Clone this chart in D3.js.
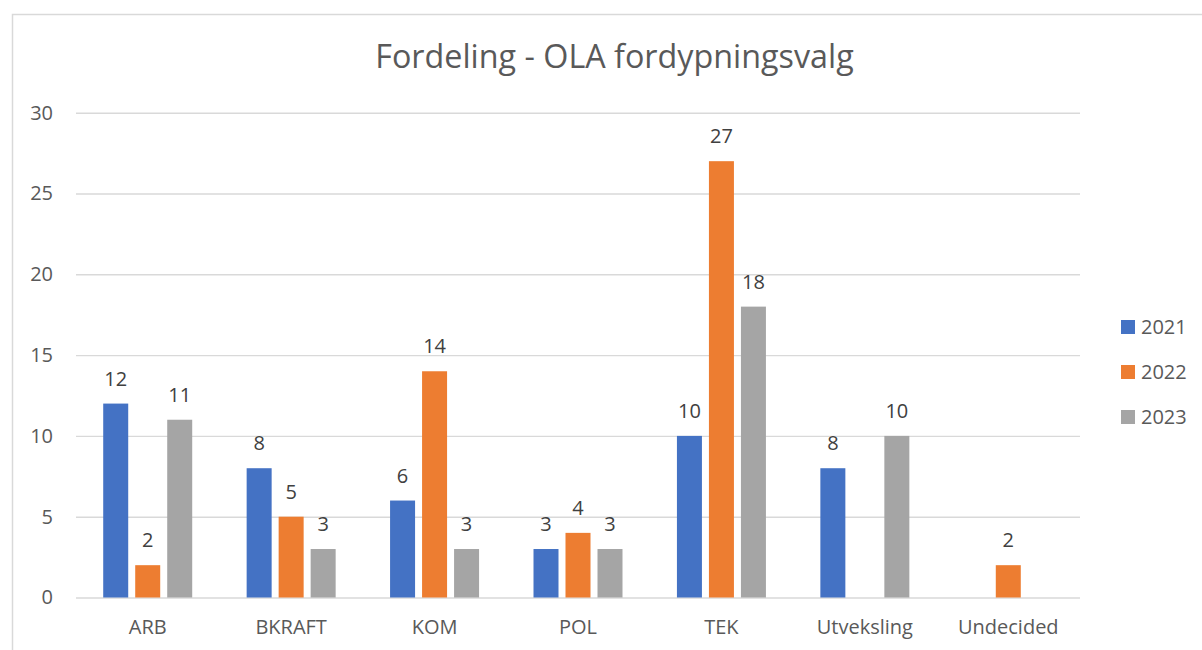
<!DOCTYPE html>
<html>
  <head>
    <meta charset="utf-8">
    <title>Fordeling - OLA fordypningsvalg</title>
  </head>
  <style>
  body{
      margin: 0;
      background: #fff;
      font-family: "Open Sans", sans-serif;
    }
  svg { display: block; }
  </style>
  <script src="https://d3js.org/d3.v7.min.js"></script>
  <body>
    <script>
    // data
    var categories = ["ARB", "BKRAFT", "KOM", "POL", "TEK", "Utveksling", "Undecided"]
    var seriesNames = ["2021", "2022", "2023"]
    var values2021 = [12, 8, 6, 3, 10, 8, null]
    var values2022 = [2, 5, 14, 4, 27, null, 2]
    var values2023 = [11, 3, 3, 3, 18, 10, null]
    var yTicks = [0, 5, 10, 15, 20, 25, 30]
    var colors = ["#4472C4", "#ED7D31", "#A5A5A5"]

    var W = 1202, H = 650
    var plot = { left: 76, right: 1080, top: 112.7, bottom: 597.5 }

    var svg = d3.select("body")
                .append("svg")
                .attr("width", W)
                .attr("height", H)

    // chart frame
    svg.append("rect")
       .attr("x", 12.5).attr("y", 14.5)
       .attr("width", 1300).attr("height", 1000)
       .attr("fill", "none")
       .attr("stroke", "#d9d9d9")
       .attr("stroke-width", 1.5)

    // title
    svg.append("text")
       .attr("x", 614.5).attr("y", 68)
       .attr("text-anchor", "middle")
       .attr("font-size", "32.3px")
       .attr("fill", "#595959")
       .text("Fordeling - OLA fordypningsvalg")

    // scales
    var yScale = d3.scaleLinear()
                   .domain([0, 30])
                   .range([plot.bottom, plot.top])

    var xScale = d3.scaleBand()
                   .domain(categories)
                   .range([plot.left, plot.right])
                   .padding(0)

    var xInner = d3.scaleBand()
                   .domain(seriesNames)
                   .range([-44.5, 44.5])
                   .paddingInner(7 / 32)

    // gridlines + y axis
    var yAxis = d3.axisLeft(yScale)
                  .tickValues(yTicks)
                  .tickSize(-(plot.right - plot.left))
                  .tickPadding(23)

    var gy = svg.append("g")
                .attr("transform", "translate(" + plot.left + ",0)")
                .call(yAxis)
    gy.select(".domain").remove()
    gy.selectAll("line").attr("stroke", "#d9d9d9").attr("stroke-width", 1.4)
    gy.selectAll("text")
      .attr("font-family", "Open Sans")
      .attr("font-size", "20px")
      .attr("fill", "#595959")

    // x axis
    var xAxis = d3.axisBottom(xScale).tickSize(0).tickPadding(22)
    var gx = svg.append("g")
                .attr("transform", "translate(0," + plot.bottom + ")")
                .call(xAxis)
    gx.select(".domain").remove()
    gx.selectAll("text")
      .attr("font-family", "Open Sans")
      .attr("font-size", "20px")
      .attr("fill", "#595959")

    // bars
    var allValues = [values2021, values2022, values2023]
    var rows = []
    seriesNames.forEach(function(s, si){
        categories.forEach(function(c, ci){
            var v = allValues[si][ci]
            if (v !== null) rows.push({ cat: c, series: s, si: si, value: v })
        })
    })

    svg.append("g").selectAll("rect")
       .data(rows)
       .enter()
       .append("rect")
       .attr("x", function(d){ return xScale(d.cat) + xScale.bandwidth() / 2 + xInner(d.series) })
       .attr("y", function(d){ return yScale(d.value) })
       .attr("width", xInner.bandwidth())
       .attr("height", function(d){ return plot.bottom - yScale(d.value) })
       .attr("fill", function(d){ return colors[d.si] })

    // data labels
    svg.append("g").selectAll("text")
       .data(rows)
       .enter()
       .append("text")
       .attr("x", function(d){ return xScale(d.cat) + xScale.bandwidth() / 2 + xInner(d.series) + xInner.bandwidth() / 2 })
       .attr("y", function(d){ return yScale(d.value) - 18 })
       .attr("text-anchor", "middle")
       .attr("font-size", "20px")
       .attr("fill", "#404040")
       .text(function(d){ return d.value })

    // legend
    var legend = svg.append("g").selectAll("g")
                    .data(seriesNames)
                    .enter()
                    .append("g")
                    .attr("transform", function(d, i){ return "translate(1121," + (320 + i * 45) + ")" })
    legend.append("rect")
          .attr("width", 14).attr("height", 14)
          .attr("fill", function(d, i){ return colors[i] })
    legend.append("text")
          .attr("x", 20).attr("y", 7)
          .attr("dy", "0.35em")
          .attr("font-size", "20px")
          .attr("fill", "#595959")
          .text(function(d){ return d })
    </script>
  </body>
</html>
